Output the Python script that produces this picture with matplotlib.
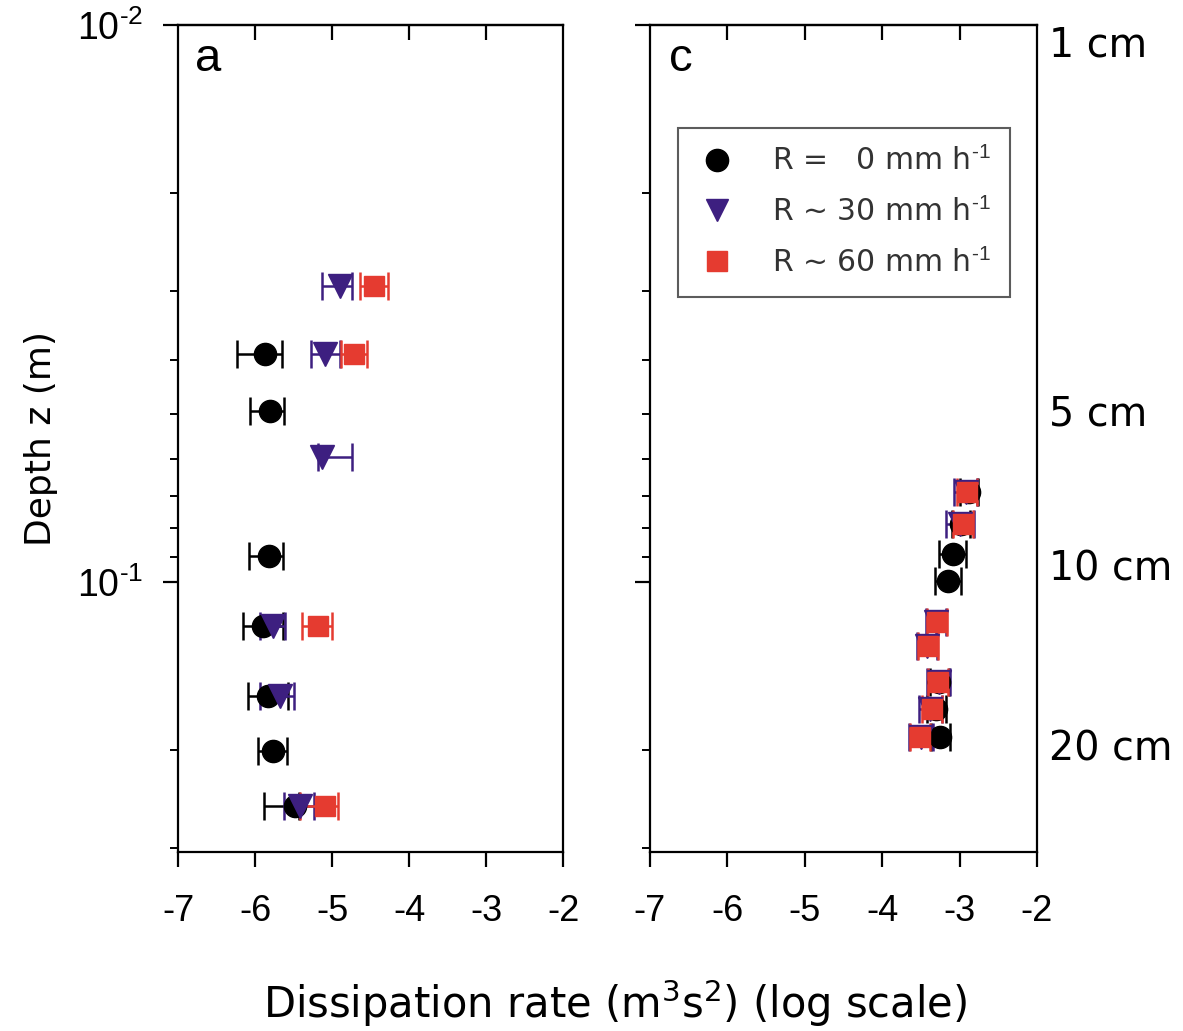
import numpy as np
import matplotlib
matplotlib.use("Agg")
import matplotlib.pyplot as plt
import matplotlib.transforms as mtransforms
from matplotlib.lines import Line2D
from matplotlib.ticker import LogLocator, FixedLocator, NullFormatter

plt.rcParams['font.family'] = ['Liberation Sans', 'DejaVu Sans']
plt.rcParams['mathtext.fontset'] = 'custom'
plt.rcParams['mathtext.rm'] = 'Liberation Sans'
plt.rcParams['mathtext.it'] = 'Liberation Sans'
plt.rcParams['axes.unicode_minus'] = False

# --- panel a: log10 dissipation vs depth (m) ---
a_z0 = [0.039, 0.0492, 0.0897, 0.120, 0.160, 0.201, 0.252]
a_e0 = [-5.87, -5.81, -5.82, -5.90, -5.83, -5.77, -5.48]
a_lo0 = [0.36, 0.25, 0.26, 0.26, 0.26, 0.19, 0.41]
a_hi0 = [0.22, 0.19, 0.18, 0.26, 0.26, 0.18, 0.05]

a_z30 = [0.0294, 0.039, 0.0597, 0.120, 0.160, 0.252]
a_e30 = [-4.90, -5.09, -5.13, -5.77, -5.68, -5.42]
a_lo30 = [0.23, 0.18, 0.05, 0.16, 0.25, 0.20]
a_hi30 = [0.16, 0.19, 0.39, 0.16, 0.18, 0.19]

a_z60 = [0.0294, 0.039, 0.120, 0.252]
a_e60 = [-4.45, -4.71, -5.18, -5.09]
a_lo60 = [0.19, 0.18, 0.21, 0.32]
a_hi60 = [0.18, 0.17, 0.18, 0.17]

# --- panel c ---
c_z0 = [0.069, 0.0787, 0.089, 0.0996, 0.151, 0.169, 0.190]
c_e0 = [-2.88, -2.98, -3.09, -3.15, -3.26, -3.30, -3.25]
c_err0 = [0.12, 0.12, 0.17, 0.17, 0.12, 0.12, 0.12]

c_z30 = [0.069, 0.0787, 0.118, 0.130, 0.151, 0.169, 0.190]
c_e30 = [-2.92, -3.00, -3.30, -3.42, -3.27, -3.38, -3.50]
c_err30 = [0.15, 0.18, 0.13, 0.13, 0.15, 0.15, 0.15]

c_z60 = [0.069, 0.0787, 0.118, 0.130, 0.151, 0.169, 0.190]
c_e60 = [-2.90, -2.96, -3.29, -3.41, -3.28, -3.36, -3.51]
c_err60 = [0.13, 0.13, 0.13, 0.13, 0.13, 0.13, 0.13]

depth_ticks = [0.01, 0.05, 0.1, 0.2]
depth_labels = ['1 cm', '5 cm', '10 cm', '20 cm']
hy = '\u2010'
legend_labels = ['R =   0 mm h$^{%s1}$' % hy, 'R ~ 30 mm h$^{%s1}$' % hy,
                 'R ~ 60 mm h$^{%s1}$' % hy]
ytick_labels = ['10$^{%s2}$' % hy, '10$^{%s1}$' % hy]

black = '#000000'
purple = '#3d1f80'
red = '#e53b30'

fig = plt.figure(figsize=(11.83, 10.31), dpi=100)
ax_a = fig.add_axes([0.1505, 0.1736, 0.3255, 0.8022])
ax_c = fig.add_axes([0.5494, 0.1736, 0.3272, 0.8022])


def draw(ax, z, e, xerr, color, marker, ms):
    ax.errorbar(e, z, xerr=xerr, fmt=marker, color=color, ms=ms,
                mec=color, ecolor=color, elinewidth=1.8, capsize=10,
                capthick=1.8)


draw(ax_a, a_z0, a_e0, [a_lo0, a_hi0], black, 'o', 16)
draw(ax_a, a_z30, a_e30, [a_lo30, a_hi30], purple, 'v', 17)
draw(ax_a, a_z60, a_e60, [a_lo60, a_hi60], red, 's', 15)

draw(ax_c, c_z0, c_e0, c_err0, black, 'o', 16)
draw(ax_c, c_z30, c_e30, c_err30, purple, 'v', 17)
draw(ax_c, c_z60, c_e60, c_err60, red, 's', 15)

for ax in (ax_a, ax_c):
    ax.set_yscale('log')
    ax.set_ylim(0.305, 0.01)
    ax.set_xlim(-7, -2)
    ax.set_xticks(range(-7, -1))
    for s in ax.spines.values():
        s.set_linewidth(1.6)
    ax.tick_params(axis='x', which='major', direction='out', length=11,
                   width=1.6, labelsize=26, pad=19, top=False)
    ax.yaxis.set_major_locator(FixedLocator([0.01, 0.1]))
    ax.yaxis.set_minor_locator(LogLocator(base=10, subs=np.arange(2, 10)))
    ax.yaxis.set_minor_formatter(NullFormatter())
    ax.tick_params(axis='y', which='major', direction='out', length=11,
                   width=1.6, labelsize=27, pad=14, right=False)
    ax.tick_params(axis='y', which='minor', direction='out', length=6,
                   width=1.4, right=False)
    sec = ax.secondary_xaxis('top')
    sec.set_xticks(range(-6, -2))
    sec.tick_params(direction='in', length=11, width=1.6, labeltop=False)
    sec.set_xticklabels([])
    sec.spines['top'].set_linewidth(1.6)

ax_a.set_yticks([0.01, 0.1])
ax_a.set_yticklabels(ytick_labels)
ax_c.set_yticklabels([])
ax_a.set_ylabel('Depth z (m)', fontsize=26, family='DejaVu Sans',
                labelpad=14)

ax_a.text(0.045, 0.985, 'a', transform=ax_a.transAxes, fontsize=34,
          va='top', ha='left')
ax_c.text(0.05, 0.985, 'c', transform=ax_c.transAxes, fontsize=34,
          va='top', ha='left')

handles = [Line2D([], [], ls='none', marker='o', color=black, ms=16),
           Line2D([], [], ls='none', marker='v', color=purple, ms=16),
           Line2D([], [], ls='none', marker='s', color=red, ms=14)]
leg = ax_c.legend(handles, legend_labels,
                  loc='upper left', bbox_to_anchor=(0.072, 0.876),
                  prop={'family': 'DejaVu Sans', 'size': 21.5},
                  frameon=True, fancybox=False,
                  handletextpad=1.2, borderpad=0.65, labelspacing=0.72,
                  borderaxespad=0, handlelength=1.3)
leg.get_frame().set_edgecolor('#333333')
leg.get_frame().set_linewidth(1.5)
for t in leg.get_texts():
    t.set_color('#333333')

# depth labels on the right
trans = mtransforms.blended_transform_factory(ax_c.transAxes, ax_c.transData)
offsets = [1.09, 1.0, 0.95, 1.0]
for d, lab, off in zip(depth_ticks, depth_labels, offsets):
    ax_c.text(1.03, d * off, lab, transform=trans, fontsize=28.5,
              family='DejaVu Sans', va='center', ha='left')

fig.text(0.52, 0.027, 'Dissipation rate (m$^3$s$^2$) (log scale)',
         fontsize=30, family='DejaVu Sans', ha='center', va='center',
         math_fontfamily='dejavusans')

fig.savefig('out.png', dpi=100)
